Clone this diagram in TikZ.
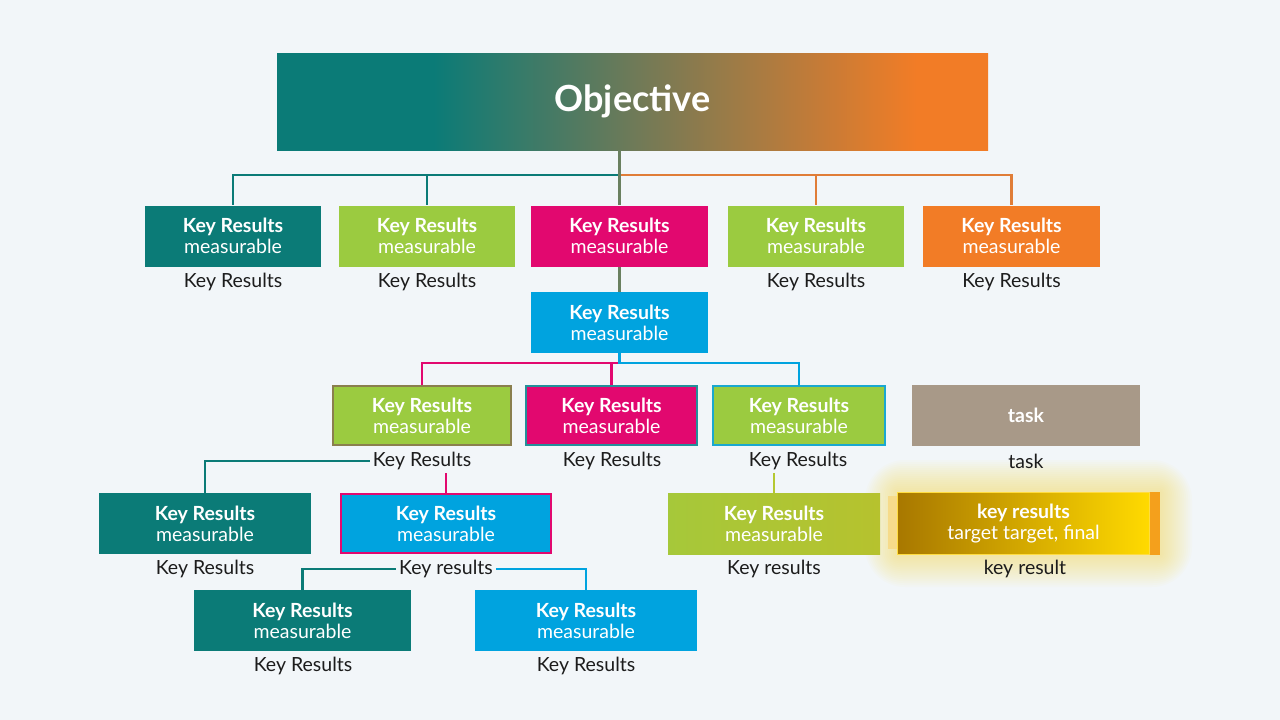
\documentclass[tikz,border=0pt]{standalone}
\usepackage{fontspec}
\setmainfont{Lato}
\usetikzlibrary{calc}
\definecolor{bgc}{HTML}{F2F6F9}
\definecolor{cteal}{HTML}{0B7B77}
\definecolor{cmid}{HTML}{6E7A58}
\definecolor{corange}{HTML}{F27C26}
\definecolor{clime}{HTML}{9BCB40}
\definecolor{cpink}{HTML}{E2086F}
\definecolor{cblue}{HTML}{00A3DF}
\definecolor{ctaupe}{HTML}{A89988}
\definecolor{colive}{HTML}{8A7F4E}
\definecolor{ccyan}{HTML}{1AA8D0}
\definecolor{cdteal}{HTML}{23909A}
\definecolor{cline}{HTML}{6A8060}
\definecolor{clineor}{HTML}{E07D38}
\definecolor{clinelime}{HTML}{B5C832}
\definecolor{elimeL}{HTML}{A6C83A}
\definecolor{elimeR}{HTML}{B6C22E}
\definecolor{ydark}{HTML}{A87800}
\definecolor{ymid}{HTML}{DCA900}
\definecolor{ybright}{HTML}{FFDA00}
\definecolor{yglow}{HTML}{FFDC40}
\definecolor{ypale}{HTML}{F6DB8A}
\definecolor{ystrip}{HTML}{F4A01C}
\definecolor{ctext}{HTML}{1C1C1C}
\pgfdeclarehorizontalshading{objgrad}{100bp}{color(0bp)=(cteal); color(36bp)=(cteal); color(50bp)=(cmid); color(70bp)=(corange); color(100bp)=(corange)}
\pgfdeclarelayer{bg}
\pgfsetlayers{bg,main}
\begin{document}
\begin{tikzpicture}[x=1pt,y=-1pt,
  box/.style={rectangle, inner sep=0pt, minimum height=61pt, text=white, align=center,
    font=\fontsize{19.5}{21}\selectfont},
  lbl/.style={inner sep=3pt, text=ctext, font=\fontsize{19.5}{21}\selectfont},
  conn/.style={line width=2.2pt},
]
\begin{pgfonlayer}{bg}
\fill[bgc] (0,0) rectangle (1280,720);
\end{pgfonlayer}
\useasboundingbox (0,0) rectangle (1280,720);

% Objective
\node[box, minimum width=711pt, minimum height=97pt, shading=objgrad,
  font=\fontsize{36}{40}\selectfont\bfseries] (obj) at (632.5,101.5) {Objective};

% Row 1
\node[box, minimum width=176pt, fill=cteal] (b1) at (233,236) {\textbf{Key Results}\\measurable};
\node[box, minimum width=176pt, fill=clime] (b2) at (427,236) {\textbf{Key Results}\\measurable};
\node[box, minimum width=177pt, fill=cpink] (b3) at (619.5,236) {\textbf{Key Results}\\measurable};
\node[box, minimum width=176pt, fill=clime] (b4) at (816,236) {\textbf{Key Results}\\measurable};
\node[box, minimum width=177pt, fill=corange] (b5) at (1011.5,236) {\textbf{Key Results}\\measurable};
\node[lbl] (lb1) at (233,282) {Key Results};
\node[lbl] (lb2) at (427,282) {Key Results};
\node[lbl] (lb4) at (816,282) {Key Results};
\node[lbl] (lb5) at (1011.5,282) {Key Results};

% Row 2
\node[box, minimum width=177pt, fill=cblue] (c) at (619.5,322.5) {\textbf{Key Results}\\measurable};

% Row 3
\node[box, minimum width=178pt, minimum height=59pt, fill=clime, draw=colive, line width=2pt] (d1) at (422,415.5) {\textbf{Key Results}\\measurable};
\node[box, minimum width=171pt, minimum height=59pt, fill=cpink, draw=cdteal, line width=2pt] (d2) at (611.5,415.5) {\textbf{Key Results}\\measurable};
\node[box, minimum width=172pt, minimum height=59pt, fill=clime, draw=ccyan, line width=2pt] (d3) at (799,415.5) {\textbf{Key Results}\\measurable};
\node[box, minimum width=228pt, fill=ctaupe, font=\fontsize{19.5}{21}\selectfont\bfseries] (t) at (1026,415.5) {task};
\node[lbl] (ld1) at (422,461) {Key Results};
\node[lbl] (ld2) at (612,461) {Key Results};
\node[lbl] (ld3) at (798,461) {Key Results};
\node[lbl] (lt) at (1026,461) {task};

% Row 4
\node[box, minimum width=212pt, fill=cteal] (e1) at (205,523.5) {\textbf{Key Results}\\measurable};
\node[box, minimum width=210pt, minimum height=59pt, fill=cblue, draw=cpink, line width=2pt] (e2) at (446,523.5) {\textbf{Key Results}\\measurable};
\node[box, minimum width=212pt, left color=elimeL, right color=elimeR] (e3) at (774,523.5) {\textbf{Key Results}\\measurable};
% glow
\begin{pgfonlayer}{bg}
\foreach \i in {1,...,16}{
  \fill[yglow, opacity=0.03, rounded corners=2.5*\i pt] ({897-2*\i},{492-2*\i}) rectangle ({1160+2*\i},{555+2*\i});
}
\end{pgfonlayer}
\fill[ypale] (888,496) rectangle (898,549);
\fill[ystrip] (1149,492) rectangle (1160,555);
\node[box, minimum width=251pt, minimum height=62pt, left color=ydark, middle color=ymid, right color=ybright] (y) at (1023.5,523.5) {\textbf{key results}\\target target, final};
\draw[yglow, line width=1.2pt] (y.north west) rectangle (y.south east);
\node[lbl] (le1) at (205,569) {Key Results};
\node[lbl] (le2) at (446,569) {Key results};
\node[lbl] (le3) at (774,569) {Key results};
\node[lbl] (ly) at (1025,569) {key result};

% Row 5
\node[box, minimum width=217pt, fill=cteal] (f1) at (302.5,620.5) {\textbf{Key Results}\\measurable};
\node[box, minimum width=222pt, fill=cblue] (f2) at (586,620.5) {\textbf{Key Results}\\measurable};
\node[lbl] (lf1) at (303,666) {Key Results};
\node[lbl] (lf2) at (586,666) {Key Results};

% Connectors
\coordinate (j1) at ($(obj.south -| b3.north)+(0,25)$);
\draw[conn, cteal] (j1) -| (b1.north);
\draw[conn, cteal] (b2.north |- j1) -- (b2.north);
\draw[conn, clineor] (j1) -| (b5.north);
\draw[conn, clineor] (b4.north |- j1) -- (b4.north);
\draw[conn, cline] (obj.south -| b3.north) -- (b3.north);
\draw[conn, cline] (b3.south) -- (c.north);

\coordinate (j2) at ($(c.south)+(0,10)$);
\draw[conn, cpink] (j2) -| (d1.north);
\draw[conn, cpink] (d2.north |- j2) -- (d2.north);
\draw[conn, cblue] (c.south) -- (j2) -| (d3.north);

\draw[conn, cteal] (ld1.west) -| (e1.north);
\draw[conn, cpink] (ld1.south -| e2.north) -- (e2.north);
\draw[conn, clinelime] (ld3.south -| e3.north) -- (e3.north);

\draw[conn, cteal] (le2.west) -| (f1.north);
\draw[conn, cblue] (le2.east) -| (f2.north);
\end{tikzpicture}
\end{document}
